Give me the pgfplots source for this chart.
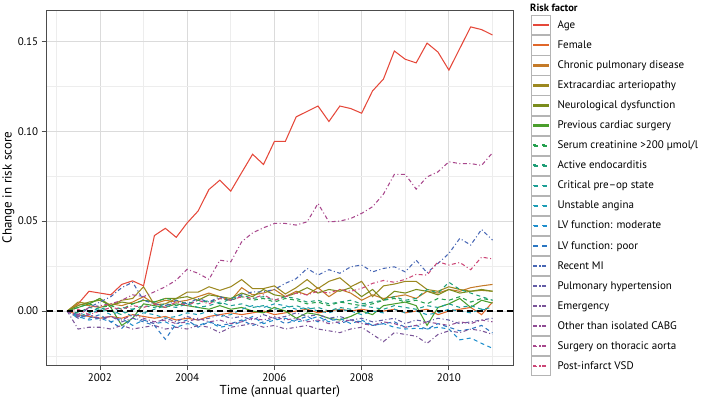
\documentclass[border=0pt]{standalone}
\usepackage{pgfplots}
\pgfplotsset{compat=1.18}
\usepackage{pgfplotstable}
\usepackage{fontspec}
\setmainfont{PT Sans}

\definecolor{cA}{HTML}{E5483A}
\definecolor{cB}{HTML}{E0672A}
\definecolor{cC}{HTML}{C47A28}
\definecolor{cD}{HTML}{9C8820}
\definecolor{cE}{HTML}{7A8C1C}
\definecolor{cF}{HTML}{4A9E2C}
\definecolor{cG}{HTML}{24A04E}
\definecolor{cH}{HTML}{1E9E76}
\definecolor{cI}{HTML}{1C9E94}
\definecolor{cJ}{HTML}{1C9CB4}
\definecolor{cK}{HTML}{1E8ECC}
\definecolor{cL}{HTML}{2A76C2}
\definecolor{cM}{HTML}{4766B4}
\definecolor{cN}{HTML}{635CA6}
\definecolor{cO}{HTML}{7A5498}
\definecolor{cP}{HTML}{904C94}
\definecolor{cQ}{HTML}{A8478C}
\definecolor{cR}{HTML}{CC4676}
\definecolor{keyborder}{HTML}{B4B4B4}

\pgfplotstableread{
t Age Fem Chr Ext Neu Prev Ser Act Cri Uns LVm LVp RMI PH Eme Oth Sur Pos
2001.25 0 0 0 0 0 0 0 0 0 0 0 0 0 0 0 0 0 0
2001.50 0.004 -0.002 0.004 0.005 0.003 0.002 0.002 -0.001 -0.003 -0.004 -0.003 -0.002 -0.003 -0.004 -0.010 -0.003 -0.002 0.001
2001.75 0.011 -0.003 0.003 0.004 0.005 0.004 0.004 0.002 -0.001 -0.002 -0.005 -0.004 0.002 -0.002 -0.009 -0.002 0.002 -0.002
2002.00 0.010 -0.004 0.002 0.007 0.006 0.007 0.002 0.001 0.002 0.001 -0.004 -0.002 0.005 -0.005 -0.009 -0.004 0.003 0
2002.25 0.009 -0.003 0.004 0.003 0.003 0.002 0.003 0 0 -0.002 -0.006 -0.006 0.008 -0.003 -0.010 -0.003 0.004 0.002
2002.50 0.0148 -0.004 0.003 0.006 0.005 -0.008 0.001 -0.002 0.002 0 -0.004 -0.0096 0.013 -0.006 -0.008 -0.005 0.006 0.001
2002.75 0.0168 -0.002 0.005 0.007 0.004 -0.004 0.004 0.001 0.001 -0.003 -0.008 -0.004 0.016 -0.004 -0.010 -0.002 0.009 0.003
2003.00 0.014 -0.003 0.008 0.0135 0.006 0.004 0.006 0.003 -0.001 -0.001 -0.005 -0.006 0.006 -0.005 -0.009 -0.004 0.008 0.002
2003.25 0.042 -0.004 0.004 0.0035 0.005 0.003 0.005 0.002 0.001 -0.002 -0.007 -0.008 0.004 -0.007 -0.008 -0.006 0.0107 0.004
2003.50 0.046 -0.003 0.006 0.004 0.007 0.002 0.007 0.004 0.003 -0.004 -0.006 -0.0157 0.003 -0.004 -0.010 -0.005 0.0135 0.002
2003.75 0.041 -0.005 0.005 0.007 0.007 0.004 0.006 0.003 0.002 -0.003 -0.009 -0.007 0.006 -0.006 -0.009 -0.007 0.0172 0.005
2004.00 0.049 -0.004 0.006 0.0105 0.008 0.003 0.004 0.005 0.004 -0.001 -0.007 -0.005 0.004 -0.003 -0.010 -0.006 0.0232 0.003
2004.25 0.0556 -0.005 0.008 0.0105 0.006 0.002 0.006 0.004 0.002 -0.002 -0.008 -0.009 0.007 -0.005 -0.008 -0.004 0.021 0.006
2004.50 0.0676 -0.003 0.010 0.0135 0.009 0.001 0.005 0.006 0.003 0 -0.006 -0.006 0.005 -0.004 -0.009 -0.006 0.0176 0.004
2004.75 0.0728 -0.002 0.008 0.0115 0.008 0.003 0.007 0.004 0.005 -0.003 -0.009 -0.008 0.008 -0.002 -0.012 -0.005 0.0283 0.007
2005.00 0.0667 -0.001 0.006 0.0135 0.007 0.001 0.006 0.007 0.003 -0.002 -0.008 -0.007 0.006 -0.004 -0.009 -0.007 0.0274 0.006
2005.25 0.077 -0.002 0.013 0.0175 0.010 0.002 0.008 0.009 0.004 0.001 -0.006 -0.005 0.009 -0.003 -0.008 -0.006 0.0385 0.008
2005.50 0.0872 -0.001 0.009 0.0125 0.008 0 0.006 0.007 0.002 0.003 -0.003 -0.008 0.0107 -0.005 -0.007 -0.004 0.0435 0.007
2005.75 0.0815 0 0.010 0.0125 0.012 -0.001 0.007 0.008 0.003 0.002 -0.007 -0.006 0.0107 -0.002 -0.009 -0.005 0.0463 0.009
2006.00 0.0943 -0.002 0.012 0.014 0.009 0.002 0.005 0.006 0.001 0.004 -0.005 -0.004 0.012 -0.004 -0.008 -0.003 0.0487 0.006
2006.25 0.0943 -0.001 0.008 0.0095 0.008 0 0.007 0.008 0.002 0.003 -0.004 -0.007 0.0154 -0.003 -0.010 -0.005 0.0487 0.008
2006.50 0.108 0 0.011 0.013 0.010 -0.004 0.006 0.007 0.003 0.001 -0.006 -0.005 0.018 -0.001 -0.009 -0.004 0.0478 0.010
2006.75 0.111 0.001 0.009 0.0175 0.013 -0.001 0.004 0.005 0.001 0.002 -0.005 -0.003 0.0237 -0.003 -0.008 -0.006 0.0496 0.009
2007.00 0.114 -0.001 0.013 0.0125 0.010 -0.002 0.005 0.006 0.002 0 -0.003 -0.006 0.020 -0.002 -0.010 -0.005 0.0598 0.011
2007.25 0.1054 0 0.008 0.0165 0.012 -0.004 0.003 0.004 0 -0.001 -0.006 -0.004 0.023 -0.004 -0.011 -0.007 0.0496 0.010
2007.50 0.114 0.001 0.012 0.0185 0.011 -0.005 0.005 0.005 0.002 0.001 -0.004 -0.007 0.021 -0.003 -0.012 -0.006 0.050 0.012
2007.75 0.1126 0 0.010 0.0135 0.013 -0.003 0.004 0.006 0.001 0 -0.007 -0.005 0.0246 -0.005 -0.010 -0.005 0.0515 0.011
2008.00 0.110 0.001 0.006 0.0165 0.008 0 0.003 0.004 0.003 -0.002 -0.005 -0.006 0.0256 -0.004 -0.009 -0.007 0.0543 0.0126
2008.25 0.1224 0 0.009 0.008 0.012 -0.002 0.004 0.005 0.002 0 -0.008 -0.008 0.0218 -0.006 -0.013 -0.008 0.058 0.0154
2008.50 0.129 0 0.007 0.014 0.006 0.003 0.006 0.006 0.001 -0.001 -0.007 -0.007 0.0237 -0.005 -0.017 -0.006 0.065 0.017
2008.75 0.1446 0.001 0.008 0.015 0.011 0.004 0.007 0.008 0.003 0.001 -0.009 -0.006 0.0246 -0.004 -0.012 -0.007 0.076 0.016
2009.00 0.140 -0.001 0.009 0.0165 0.010 0.005 0.005 0.006 0.002 -0.001 -0.010 -0.009 0.0218 -0.007 -0.013 -0.009 0.076 0.0176
2009.25 0.138 0 0.007 0.0165 0.012 0.003 0.006 0.007 0.001 0 -0.0096 -0.008 0.0283 -0.005 -0.014 -0.008 0.0678 0.0204
2009.50 0.149 0.001 0.011 0.012 0.011 -0.008 0.004 0.012 0.003 -0.002 -0.010 -0.010 0.0213 -0.006 -0.018 -0.006 0.0746 0.020
2009.75 0.144 -0.002 0.010 0.011 0.009 0.002 0.007 0.010 0.002 -0.001 -0.009 -0.007 0.0265 -0.004 -0.013 -0.007 0.0774 0.0274
2010.00 0.134 0 0.012 0.0135 0.012 0.004 0.006 0.016 0.004 0.001 -0.010 -0.009 0.032 -0.005 -0.011 -0.008 0.083 0.0256
2010.25 0.146 0.001 0.011 0.012 0.010 0.007 0.008 0.012 0.002 0 -0.016 -0.011 0.0404 -0.007 -0.012 -0.006 0.082 0.027
2010.50 0.158 0.002 0.013 0.011 0.011 0.002 0.005 0.010 0.003 -0.001 -0.015 -0.010 0.0367 -0.006 -0.010 -0.007 0.082 0.023
2010.75 0.1565 -0.002 0.014 0.0115 0.012 0.006 0.007 0.008 0.001 0.001 -0.018 -0.008 0.0454 -0.005 -0.011 -0.005 0.081 0.030
2011.00 0.1535 0.005 0.0148 0.011 0.011 0.0044 0.006 0.006 0.002 0 -0.0207 -0.0122 0.0394 -0.004 -0.013 -0.006 0.088 0.029
}\datatable

\tikzset{
  sl/.style={line width=1.05bp, solid},
  dl/.style={line width=1.05bp, dash pattern=on 4bp off 3.5bp},
  ddl/.style={line width=1.05bp, dash pattern=on 4bp off 2.5bp on 1bp off 2.5bp},
}
\pgfplotsset{
  keybox/.code={\path[draw=keyborder, solid, line width=0.8bp] (0bp,-9.63bp) rectangle (18.5bp,9.63bp);},
  keysolid/.style={legend image code/.code={
    \pgfplotsset{keybox}
    \fill[#1] (1.5bp,-0.65bp) rectangle (17bp,0.65bp);}},
  keydash/.style={legend image code/.code={
    \pgfplotsset{keybox}
    \fill[#1] (2bp,-0.65bp) rectangle (6.5bp,0.65bp);
    \fill[#1] (11bp,-0.65bp) rectangle (15.5bp,0.65bp);}},
  keydd/.style={legend image code/.code={
    \pgfplotsset{keybox}
    \fill[#1] (1.5bp,-0.65bp) rectangle (5bp,0.65bp);
    \fill[#1] (7.5bp,-0.65bp) rectangle (8.8bp,0.65bp);
    \fill[#1] (11.3bp,-0.65bp) rectangle (14.8bp,0.65bp);}},
}

\begin{document}
\begin{tikzpicture}
\path[use as bounding box] (-46.7bp,-36bp) rectangle (659.3bp,365bp);
\begin{axis}[
  name=ax,
  at={(0,0)}, anchor=south west,
  scale only axis, width=466.3bp, height=355bp,
  xmin=2000.78, xmax=2011.47, ymin=-0.030, ymax=0.1674,
  xtick={2002,2004,2006,2008,2010},
  minor xtick={2001,2003,2005,2007,2009,2011},
  ytick={0,0.05,0.1,0.15},
  minor ytick={-0.025,0.025,0.075,0.125},
  grid=both,
  major grid style={draw=black!14, line width=0.8bp},
  minor grid style={draw=black!7, line width=0.8bp},
  axis line style={draw=black!70, line width=0.9bp},
  tick align=outside, tick pos=left,
  major tick length=5bp, minor tick length=0pt,
  major tick style={draw=black!70, line width=0.8bp},
  /pgf/number format/assume math mode=true,
  tick label style={font=\fontsize{11bp}{13bp}\selectfont},
  xticklabel style={/pgf/number format/1000 sep={}},
  yticklabel style={/pgf/number format/fixed, /pgf/number format/fixed zerofill, /pgf/number format/precision=2},
  xlabel={Time (annual quarter)},
  ylabel={Change in risk score},
  every axis x label/.style={at={(rel axis cs:0.5,0)}, anchor=north, inner sep=0pt, yshift=-20bp, font=\fontsize{13bp}{15bp}\selectfont},
  every axis y label/.style={at={([xshift=-44.5bp]rel axis cs:0,0.5)}, rotate=90, anchor=north, inner sep=0pt, font=\fontsize{13bp}{15bp}\selectfont},
  legend cell align=left,
  legend style={at={(rel axis cs:1,1)}, anchor=north west, xshift=18bp, yshift=-5bp,
    draw=none, fill=none, inner sep=0pt, row sep=0pt, column sep=7bp,
    font=\fontsize{11bp}{12bp}\selectfont,
    nodes={inner sep=0pt}},
]
\addplot[cA, sl, keysolid=cA] table[x=t, y=Age] {\datatable}; \addlegendentry{Age}
\addplot[cB, sl, keysolid=cB] table[x=t, y=Fem] {\datatable}; \addlegendentry{Female}
\addplot[cC, sl, keysolid=cC] table[x=t, y=Chr] {\datatable}; \addlegendentry{Chronic pulmonary disease}
\addplot[cD, sl, keysolid=cD] table[x=t, y=Ext] {\datatable}; \addlegendentry{Extracardiac arteriopathy}
\addplot[cE, sl, keysolid=cE] table[x=t, y=Neu] {\datatable}; \addlegendentry{Neurological dysfunction}
\addplot[cF, sl, keysolid=cF] table[x=t, y=Prev] {\datatable}; \addlegendentry{Previous cardiac surgery}
\addplot[cG, dl, keydash=cG] table[x=t, y=Ser] {\datatable}; \addlegendentry{Serum creatinine >200 µmol/l}
\addplot[cH, dl, keydash=cH] table[x=t, y=Act] {\datatable}; \addlegendentry{Active endocarditis}
\addplot[cI, dl, keydash=cI] table[x=t, y=Cri] {\datatable}; \addlegendentry{Critical pre--op state}
\addplot[cJ, dl, keydash=cJ] table[x=t, y=Uns] {\datatable}; \addlegendentry{Unstable angina}
\addplot[cK, dl, keydash=cK] table[x=t, y=LVm] {\datatable}; \addlegendentry{LV function: moderate}
\addplot[cL, dl, keydash=cL] table[x=t, y=LVp] {\datatable}; \addlegendentry{LV function: poor}
\addplot[cM, ddl, keydd=cM] table[x=t, y=RMI] {\datatable}; \addlegendentry{Recent MI}
\addplot[cN, ddl, keydd=cN] table[x=t, y=PH] {\datatable}; \addlegendentry{Pulmonary hypertension}
\addplot[cO, ddl, keydd=cO] table[x=t, y=Eme] {\datatable}; \addlegendentry{Emergency}
\addplot[cP, ddl, keydd=cP] table[x=t, y=Oth] {\datatable}; \addlegendentry{Other than isolated CABG}
\addplot[cQ, ddl, keydd=cQ] table[x=t, y=Sur] {\datatable}; \addlegendentry{Surgery on thoracic aorta}
\addplot[cR, ddl, keydd=cR] table[x=t, y=Pos] {\datatable}; \addlegendentry{Post-infarct VSD}
\addplot[black, line width=1.4bp, dash pattern=on 6bp off 4bp, forget plot] coordinates {(2000.78,0) (2011.47,0)};
\end{axis}
\node[anchor=base west, inner sep=0pt, font=\bfseries\fontsize{10.5bp}{12bp}\selectfont] at ([xshift=17bp, yshift=-1.5bp]ax.north east) {Risk factor};
\end{tikzpicture}
\end{document}
